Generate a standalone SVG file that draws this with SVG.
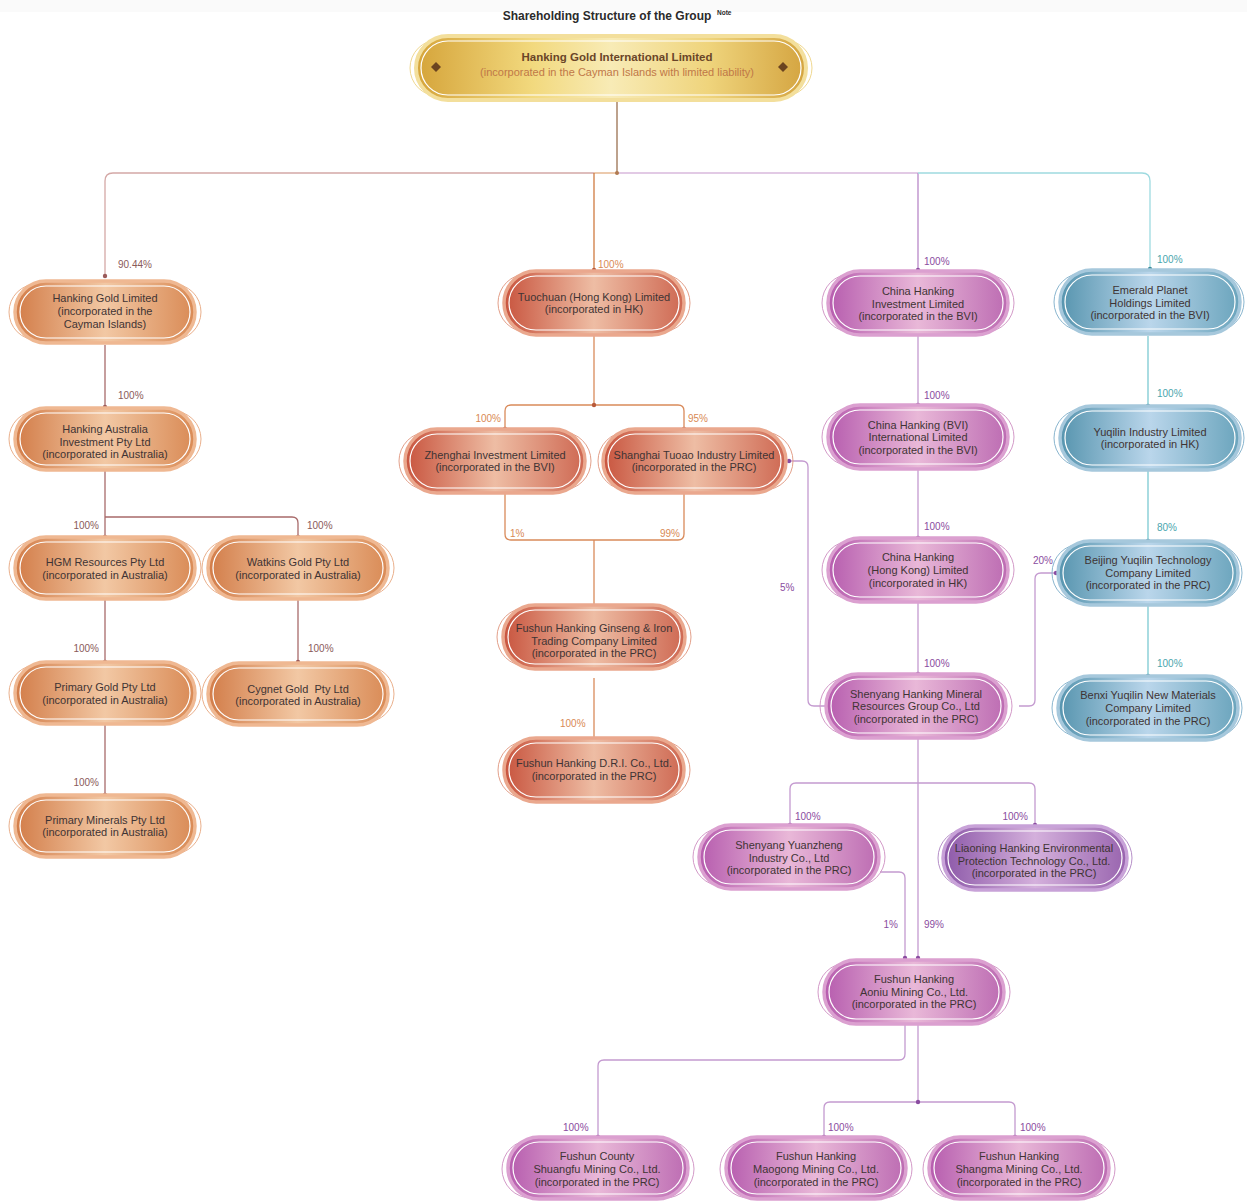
<svg xmlns="http://www.w3.org/2000/svg" width="1247" height="1202" viewBox="0 0 1247 1202">
<style>
text{font-family:"Liberation Sans",Arial,sans-serif}
.t{font-size:11px;fill:#3f3434;text-anchor:middle}
.p{font-size:10px}
.po{fill:#8a5a5a}.pr{fill:#d98a55}.pp{fill:#8a4ca0}.pt{fill:#4aa6ae}
.c{fill:none;stroke-width:1.3}
.deco{fill:none;stroke-width:1}
.in{fill:none;stroke:#fff;stroke-width:1.2}
.o .m{fill:url(#gO);stroke:#efb892}.o .deco{stroke:#eab08c}
.r .m{fill:url(#gR);stroke:#eaa88e}.r .deco{stroke:#e3a08a}
.u .m{fill:url(#gP);stroke:#dba0d0}.u .deco{stroke:#d39ac8}
.v .m{fill:url(#gV);stroke:#c8a2d8}.v .deco{stroke:#b690c8}
.b .m{fill:url(#gB);stroke:#a6c8dc}.b .deco{stroke:#8ab6cf}
.m{stroke-width:3.5}
</style>
<defs>
<linearGradient id="gO" x1="0" x2="1"><stop offset="0" stop-color="#d27c48"/><stop offset="0.5" stop-color="#f2c8a4"/><stop offset="1" stop-color="#d98a55"/></linearGradient>
<linearGradient id="gR" x1="0" x2="1"><stop offset="0" stop-color="#c8543e"/><stop offset="0.5" stop-color="#eebda4"/><stop offset="1" stop-color="#ce6852"/></linearGradient>
<linearGradient id="gP" x1="0" x2="1"><stop offset="0" stop-color="#b65cae"/><stop offset="0.5" stop-color="#e9b8d8"/><stop offset="1" stop-color="#bc6bb2"/></linearGradient>
<linearGradient id="gV" x1="0" x2="1"><stop offset="0" stop-color="#8c58a8"/><stop offset="0.5" stop-color="#d4b0dc"/><stop offset="1" stop-color="#9864ae"/></linearGradient>
<linearGradient id="gB" x1="0" x2="1"><stop offset="0" stop-color="#5694ae"/><stop offset="0.5" stop-color="#bad6eb"/><stop offset="1" stop-color="#6aa4bc"/></linearGradient>
<linearGradient id="gG" x1="0" x2="1"><stop offset="0" stop-color="#d5a43a"/><stop offset="0.3" stop-color="#f2d97e"/><stop offset="0.5" stop-color="#f8ebb6"/><stop offset="0.75" stop-color="#efd47c"/><stop offset="1" stop-color="#d4a440"/></linearGradient>
</defs>
<rect width="1247" height="1202" fill="#fff"/>
<rect width="1247" height="12" fill="#fafafa"/>
<text x="607" y="20" style="font-size:12px;font-weight:bold;fill:#2b2b2b" text-anchor="middle">Shareholding Structure of the Group</text>
<text x="717" y="15" style="font-size:6.5px;font-weight:bold;fill:#2b2b2b">Note</text>

<g id="connectors">
<path class="c" stroke="#9a7050" d="M617,99V173"/>
<path class="c" stroke="#d4a8a6" d="M105,276V181Q105,173 113,173H594"/>
<path class="c" stroke="#e2ae80" d="M594,173H617"/>
<path class="c" stroke="#d07a40" d="M594,173V270"/>
<path class="c" stroke="#d8b8dc" d="M617,173H918"/>
<path class="c" stroke="#b888c8" d="M918,173V270"/>
<path class="c" stroke="#9edae0" d="M918,173H1142Q1150,173 1150,181V269"/>
<circle cx="617" cy="173" r="2" fill="#b07a50"/>
<g stroke="#a86a6a">
<path class="c" d="M105,345V407"/>
<path class="c" d="M105,471V537"/>
<path class="c" d="M105,517H292Q298,517 298,523V537"/>
<path class="c" d="M105,600V662"/>
<path class="c" d="M298,600V662"/>
<path class="c" d="M105,724V795"/>
</g>
<g fill="#9a5a5a">
<circle cx="105" cy="276" r="2.2"/><circle cx="105" cy="407" r="2.2"/><circle cx="105" cy="537" r="2.2"/><circle cx="298" cy="537" r="2.2"/><circle cx="105" cy="662" r="2.2"/><circle cx="298" cy="662" r="2.2"/><circle cx="105" cy="795" r="2.2"/>
</g>
<g stroke="#d98a5a">
<path class="c" d="M594,336V405"/>
<path class="c" d="M505,429V411Q505,405 511,405H678Q684,405 684,411V429"/>
<path class="c" d="M505,493V534Q505,540 511,540H678Q684,540 684,534V493"/>
<path class="c" d="M594,540V605"/>
<path class="c" d="M594,678V738"/>
</g>
<g fill="#b85a3a">
<circle cx="594" cy="270" r="2.2"/><circle cx="594" cy="405" r="2.2"/><circle cx="505" cy="429" r="2.2"/><circle cx="684" cy="429" r="2.2"/>
</g>
<g stroke="#c49ad0">
<path class="c" d="M789,461H802Q808,461 808,467V700Q808,706 814,706H826"/>
<path class="c" d="M918,336V405"/>
<path class="c" d="M918,470V538"/>
<path class="c" d="M918,603V674"/>
<path class="c" d="M918,738V958"/>
<path class="c" d="M790,825V789Q790,783 796,783H1029Q1035,783 1035,789V825"/>
<path class="c" d="M880,872H899Q905,872 905,878V958"/>
<path class="c" d="M905,1025V1054Q905,1060 899,1060H604Q598,1060 598,1066V1137"/>
<path class="c" d="M918,1025V1102"/>
<path class="c" d="M824,1137V1108Q824,1102 830,1102H1009Q1015,1102 1015,1108V1137"/>
<path class="c" d="M1019,706H1029Q1035,706 1035,700V579Q1035,573 1041,573H1056"/>
</g>
<g fill="#8a4ca0">
<circle cx="918" cy="270" r="2.2"/><circle cx="789" cy="461" r="2.2"/><circle cx="918" cy="405" r="2.2"/><circle cx="918" cy="538" r="2.2"/><circle cx="918" cy="674" r="2.2"/>
<circle cx="790" cy="825" r="2.2"/><circle cx="1035" cy="825" r="2.2"/><circle cx="905" cy="958" r="2.2"/><circle cx="918" cy="958" r="2.2"/>
<circle cx="918" cy="1102" r="2.2"/><circle cx="598" cy="1137" r="2.2"/><circle cx="824" cy="1137" r="2.2"/><circle cx="1015" cy="1137" r="2.2"/><circle cx="1056" cy="573" r="2.2"/>
</g>
<g stroke="#7ccad2">
<path class="c" d="M1148,336V406"/>
<path class="c" d="M1148,470V541"/>
<path class="c" d="M1148,605V676"/>
</g>
<g fill="#3a8a98">
<circle cx="1150" cy="269" r="2.2"/><circle cx="1148" cy="406" r="2.2"/><circle cx="1148" cy="541" r="2.2"/><circle cx="1148" cy="676" r="2.2"/>
</g>
<text class="p po" x="118" y="268">90.44%</text>
<text class="p pr" x="598" y="268">100%</text>
<text class="p pp" x="924" y="265">100%</text>
<text class="p pt" x="1157" y="263">100%</text>
<text class="p po" x="118" y="399">100%</text>
<text class="p po" x="99" y="529" text-anchor="end">100%</text>
<text class="p po" x="307" y="529">100%</text>
<text class="p po" x="99" y="652" text-anchor="end">100%</text>
<text class="p po" x="308" y="652">100%</text>
<text class="p po" x="99" y="786" text-anchor="end">100%</text>
<text class="p pr" x="501" y="422" text-anchor="end">100%</text>
<text class="p pr" x="688" y="422">95%</text>
<text class="p pr" x="510" y="537">1%</text>
<text class="p pr" x="680" y="537" text-anchor="end">99%</text>
<text class="p pr" x="560" y="727">100%</text>
<text class="p pp" x="780" y="591">5%</text>
<text class="p pp" x="924" y="399">100%</text>
<text class="p pp" x="924" y="530">100%</text>
<text class="p pp" x="924" y="667">100%</text>
<text class="p pp" x="795" y="820">100%</text>
<text class="p pp" x="1028" y="820" text-anchor="end">100%</text>
<text class="p pp" x="898" y="928" text-anchor="end">1%</text>
<text class="p pp" x="924" y="928">99%</text>
<text class="p pp" x="563" y="1131">100%</text>
<text class="p pp" x="828" y="1131">100%</text>
<text class="p pp" x="1020" y="1131">100%</text>
<text class="p pp" x="1033" y="564">20%</text>
<text class="p pt" x="1157" y="397">100%</text>
<text class="p pt" x="1157" y="531">80%</text>
<text class="p pt" x="1157" y="667">100%</text>
</g>

<g id="root">
<rect x="410" y="40" width="402" height="56" rx="28" fill="none" stroke="#f0d890" stroke-width="1"/>
<rect x="416" y="36" width="390" height="64" rx="32" fill="url(#gG)" stroke="#f3df9c" stroke-width="4"/>
<rect x="421" y="41" width="380" height="54" rx="27" fill="none" stroke="#fff" stroke-width="1.2"/>
<path d="M436,62L441,67L436,72L431,67Z" fill="#6b4420"/>
<path d="M783,62L788,67L783,72L778,67Z" fill="#6b4420"/>
<text x="617" y="61" text-anchor="middle" style="font-size:11.5px;font-weight:bold;fill:#6a4528">Hanking Gold International Limited</text>
<text x="617" y="76" text-anchor="middle" style="font-size:11px;fill:#c07848">(incorporated in the Cayman Islands with limited liability)</text>
</g>

<g id="n_hgl" class="o"><rect class="deco" x="9" y="284" width="192" height="56" rx="28"/><rect class="m" x="15" y="281" width="180" height="62" rx="31"/><rect class="in" x="20" y="286" width="170" height="52" rx="26"/>
<text class="t" x="105" y="302">Hanking Gold Limited</text><text class="t" x="105" y="315">(incorporated in the</text><text class="t" x="105" y="328">Cayman Islands)</text></g>
<g id="n_hai" class="o"><rect class="deco" x="9" y="411" width="192" height="56" rx="28"/><rect class="m" x="15" y="408" width="180" height="62" rx="31"/><rect class="in" x="20" y="413" width="170" height="52" rx="26"/>
<text class="t" x="105" y="433">Hanking Australia</text><text class="t" x="105" y="446">Investment Pty Ltd</text><text class="t" x="105" y="458">(incorporated in Australia)</text></g>
<g id="n_hgm" class="o"><rect class="deco" x="9" y="540" width="192" height="56" rx="28"/><rect class="m" x="15" y="537" width="180" height="62" rx="31"/><rect class="in" x="20" y="542" width="170" height="52" rx="26"/>
<text class="t" x="105" y="566">HGM Resources Pty Ltd</text><text class="t" x="105" y="579">(incorporated in Australia)</text></g>
<g id="n_wat" class="o"><rect class="deco" x="202" y="540" width="192" height="56" rx="28"/><rect class="m" x="208" y="537" width="180" height="62" rx="31"/><rect class="in" x="213" y="542" width="170" height="52" rx="26"/>
<text class="t" x="298" y="566">Watkins Gold Pty Ltd</text><text class="t" x="298" y="579">(incorporated in Australia)</text></g>
<g id="n_pg" class="o"><rect class="deco" x="9" y="665" width="192" height="56" rx="28"/><rect class="m" x="15" y="662" width="180" height="62" rx="31"/><rect class="in" x="20" y="667" width="170" height="52" rx="26"/>
<text class="t" x="105" y="691">Primary Gold Pty Ltd</text><text class="t" x="105" y="704">(incorporated in Australia)</text></g>
<g id="n_cyg" class="o"><rect class="deco" x="202" y="666" width="192" height="56" rx="28"/><rect class="m" x="208" y="663" width="180" height="62" rx="31"/><rect class="in" x="213" y="668" width="170" height="52" rx="26"/>
<text class="t" x="298" y="693" style="white-space:pre">Cygnet Gold  Pty Ltd</text><text class="t" x="298" y="705">(incorporated in Australia)</text></g>
<g id="n_pm" class="o"><rect class="deco" x="9" y="798" width="192" height="56" rx="28"/><rect class="m" x="15" y="795" width="180" height="62" rx="31"/><rect class="in" x="20" y="800" width="170" height="52" rx="26"/>
<text class="t" x="105" y="824">Primary Minerals Pty Ltd</text><text class="t" x="105" y="836">(incorporated in Australia)</text></g>

<g id="n_tuo" class="r"><rect class="deco" x="498" y="274" width="192" height="58" rx="29"/><rect class="m" x="504" y="271" width="180" height="64" rx="32"/><rect class="in" x="509" y="276" width="170" height="54" rx="27"/>
<text class="t" x="594" y="301">Tuochuan (Hong Kong) Limited</text><text class="t" x="594" y="313">(incorporated in HK)</text></g>
<g id="n_zh" class="r"><rect class="deco" x="399" y="432" width="192" height="58" rx="29"/><rect class="m" x="405" y="429" width="180" height="64" rx="32"/><rect class="in" x="410" y="434" width="170" height="54" rx="27"/>
<text class="t" x="495" y="459">Zhenghai Investment Limited</text><text class="t" x="495" y="471">(incorporated in the BVI)</text></g>
<g id="n_sht" class="r"><rect class="deco" x="598" y="432" width="195" height="58" rx="29"/><rect class="m" x="603" y="429" width="183" height="64" rx="32"/><rect class="in" x="608" y="434" width="173" height="54" rx="27"/>
<text class="t" x="694" y="459">Shanghai Tuoao Industry Limited</text><text class="t" x="694" y="471">(incorporated in the PRC)</text></g>
<g id="n_gin" class="r"><rect class="deco" x="497" y="608" width="194" height="58" rx="29"/><rect class="m" x="503" y="605" width="182" height="64" rx="32"/><rect class="in" x="508" y="610" width="172" height="54" rx="27"/>
<text class="t" x="594" y="632">Fushun Hanking Ginseng &amp; Iron</text><text class="t" x="594" y="645">Trading Company Limited</text><text class="t" x="594" y="657">(incorporated in the PRC)</text></g>
<g id="n_dri" class="r"><rect class="deco" x="498" y="741" width="192" height="58" rx="29"/><rect class="m" x="504" y="738" width="180" height="64" rx="32"/><rect class="in" x="509" y="743" width="170" height="54" rx="27"/>
<text class="t" x="594" y="767">Fushun Hanking D.R.I. Co., Ltd.</text><text class="t" x="594" y="780">(incorporated in the PRC)</text></g>

<g id="n_chi" class="u"><rect class="deco" x="822" y="274" width="192" height="58" rx="29"/><rect class="m" x="828" y="271" width="180" height="64" rx="32"/><rect class="in" x="833" y="276" width="170" height="54" rx="27"/>
<text class="t" x="918" y="295">China Hanking</text><text class="t" x="918" y="308">Investment Limited</text><text class="t" x="918" y="320">(incorporated in the BVI)</text></g>
<g id="n_chb" class="u"><rect class="deco" x="822" y="408" width="192" height="58" rx="29"/><rect class="m" x="828" y="405" width="180" height="64" rx="32"/><rect class="in" x="833" y="410" width="170" height="54" rx="27"/>
<text class="t" x="918" y="429">China Hanking (BVI)</text><text class="t" x="918" y="441">International Limited</text><text class="t" x="918" y="454">(incorporated in the BVI)</text></g>
<g id="n_chh" class="u"><rect class="deco" x="822" y="541" width="192" height="58" rx="29"/><rect class="m" x="828" y="538" width="180" height="64" rx="32"/><rect class="in" x="833" y="543" width="170" height="54" rx="27"/>
<text class="t" x="918" y="561">China Hanking</text><text class="t" x="918" y="574">(Hong Kong) Limited</text><text class="t" x="918" y="587">(incorporated in HK)</text></g>
<g id="n_shy" class="u"><rect class="deco" x="820" y="677" width="192" height="58" rx="29"/><rect class="m" x="826" y="674" width="180" height="64" rx="32"/><rect class="in" x="831" y="679" width="170" height="54" rx="27"/>
<text class="t" x="916" y="698">Shenyang Hanking Mineral</text><text class="t" x="916" y="710">Resources Group Co., Ltd</text><text class="t" x="916" y="723">(incorporated in the PRC)</text></g>
<g id="n_yz" class="u"><rect class="deco" x="693" y="828" width="192" height="58" rx="29"/><rect class="m" x="699" y="825" width="180" height="64" rx="32"/><rect class="in" x="704" y="830" width="170" height="54" rx="27"/>
<text class="t" x="789" y="849">Shenyang Yuanzheng</text><text class="t" x="789" y="862">Industry Co., Ltd</text><text class="t" x="789" y="874">(incorporated in the PRC)</text></g>
<g id="n_ln" class="v"><rect class="deco" x="938" y="829" width="194" height="58" rx="29"/><rect class="m" x="943" y="826" width="184" height="64" rx="32"/><rect class="in" x="948" y="831" width="174" height="54" rx="27"/>
<text class="t" x="1034" y="852">Liaoning Hanking Environmental</text><text class="t" x="1034" y="865">Protection Technology Co., Ltd.</text><text class="t" x="1034" y="877">(incorporated in the PRC)</text></g>
<g id="n_ao" class="u"><rect class="deco" x="818" y="963" width="192" height="58" rx="29"/><rect class="m" x="824" y="960" width="180" height="64" rx="32"/><rect class="in" x="829" y="965" width="170" height="54" rx="27"/>
<text class="t" x="914" y="983">Fushun Hanking</text><text class="t" x="914" y="996">Aoniu Mining Co., Ltd.</text><text class="t" x="914" y="1008">(incorporated in the PRC)</text></g>
<g id="n_sf" class="u"><rect class="deco" x="502" y="1140" width="192" height="58" rx="29"/><rect class="m" x="508" y="1137" width="180" height="62" rx="31"/><rect class="in" x="513" y="1142" width="170" height="52" rx="26"/>
<text class="t" x="597" y="1160">Fushun County</text><text class="t" x="597" y="1173">Shuangfu Mining Co., Ltd.</text><text class="t" x="597" y="1186">(incorporated in the PRC)</text></g>
<g id="n_mg" class="u"><rect class="deco" x="720" y="1140" width="192" height="58" rx="29"/><rect class="m" x="726" y="1137" width="180" height="62" rx="31"/><rect class="in" x="731" y="1142" width="170" height="52" rx="26"/>
<text class="t" x="816" y="1160">Fushun Hanking</text><text class="t" x="816" y="1173">Maogong Mining Co., Ltd.</text><text class="t" x="816" y="1186">(incorporated in the PRC)</text></g>
<g id="n_sm" class="u"><rect class="deco" x="923" y="1140" width="192" height="58" rx="29"/><rect class="m" x="929" y="1137" width="180" height="62" rx="31"/><rect class="in" x="934" y="1142" width="170" height="52" rx="26"/>
<text class="t" x="1019" y="1160">Fushun Hanking</text><text class="t" x="1019" y="1173">Shangma Mining Co., Ltd.</text><text class="t" x="1019" y="1186">(incorporated in the PRC)</text></g>

<g id="n_em" class="b"><rect class="deco" x="1054" y="273" width="190" height="58" rx="29"/><rect class="m" x="1060" y="270" width="180" height="64" rx="32"/><rect class="in" x="1065" y="275" width="170" height="54" rx="27"/>
<text class="t" x="1150" y="294">Emerald Planet</text><text class="t" x="1150" y="307">Holdings Limited</text><text class="t" x="1150" y="319">(incorporated in the BVI)</text></g>
<g id="n_yq" class="b"><rect class="deco" x="1054" y="409" width="190" height="58" rx="29"/><rect class="m" x="1060" y="406" width="180" height="64" rx="32"/><rect class="in" x="1065" y="411" width="170" height="54" rx="27"/>
<text class="t" x="1150" y="436">Yuqilin Industry Limited</text><text class="t" x="1150" y="448">(incorporated in HK)</text></g>
<g id="n_bj" class="b"><rect class="deco" x="1052" y="544" width="190" height="58" rx="29"/><rect class="m" x="1058" y="541" width="180" height="64" rx="32"/><rect class="in" x="1063" y="546" width="170" height="54" rx="27"/>
<text class="t" x="1148" y="564">Beijing Yuqilin Technology</text><text class="t" x="1148" y="577">Company Limited</text><text class="t" x="1148" y="589">(incorporated in the PRC)</text></g>
<g id="n_bx" class="b"><rect class="deco" x="1052" y="679" width="190" height="58" rx="29"/><rect class="m" x="1058" y="676" width="180" height="64" rx="32"/><rect class="in" x="1063" y="681" width="170" height="54" rx="27"/>
<text class="t" x="1148" y="699">Benxi Yuqilin New Materials</text><text class="t" x="1148" y="712">Company Limited</text><text class="t" x="1148" y="725">(incorporated in the PRC)</text></g>
</svg>
